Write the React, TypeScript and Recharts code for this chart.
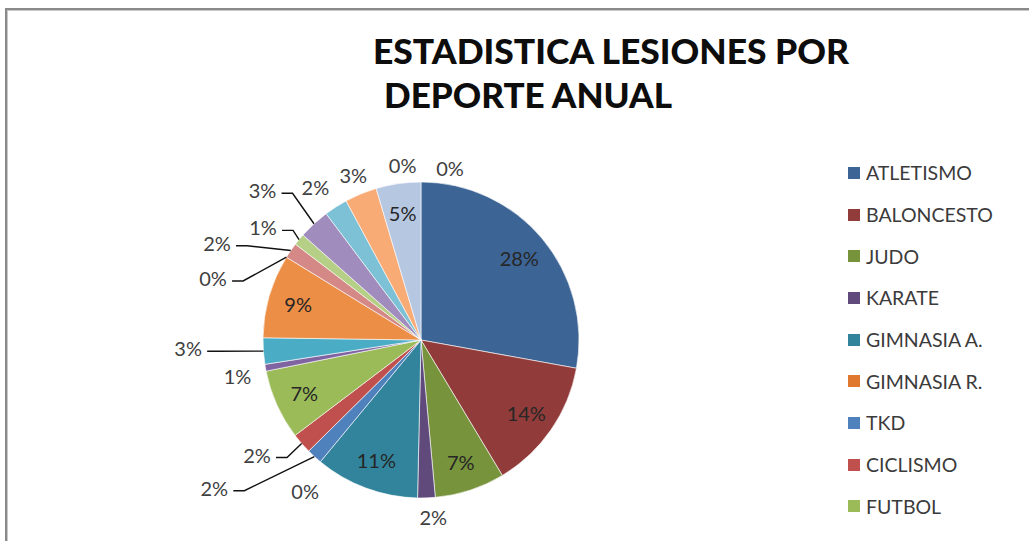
import { Cell, Legend, Pie, PieChart } from "recharts";

// sports shown in the legend; the ones after FUTBOL are cut off in the original picture
const SPORTS = [
  "ATLETISMO",
  "BALONCESTO",
  "JUDO",
  "KARATE",
  "GIMNASIA A.",
  "GIMNASIA R.",
  "TKD",
  "CICLISMO",
  "FUTBOL",
  "DEPORTE 10",
  "DEPORTE 11",
  "DEPORTE 12",
  "DEPORTE 13",
  "DEPORTE 14",
  "DEPORTE 15",
  "DEPORTE 16",
  "DEPORTE 17",
  "DEPORTE 18",
  "DEPORTE 19",
  "DEPORTE 20",
  "DEPORTE 21",
];

// share of yearly injuries
const SHARES = [28, 13.6, 7.2, 1.8, 10.7, 0, 1.6, 2.1, 7.2, 0.7, 2.7, 8.6, 0, 1.6, 1.2, 3.2, 2.4, 3.3, 4.6, 0, 0];

const COLORS = [
  "#3c6494", "#913c3a", "#77933c", "#5f4a7b", "#31849b", "#e0782f",
  "#4f81bd", "#c0504d", "#9bbb59", "#8064a2", "#4bacc6", "#ec8e45",
  "#95b3d7", "#d48987", "#b6cf86", "#a08cbd", "#7cc1d5", "#f9ab76",
  "#b6c7e2", "#d9b1b0", "#d4e2b7",
];

const data = SPORTS.map((name, i) => ({ name, value: SHARES[i] }));

// where each percentage goes: inside the slice, or outside (distance from centre,
// degrees turned from the slice middle, leader line or not)
type Spot = { inside?: boolean; r?: number; da?: number; line?: boolean };
const LABEL_SPOTS: Spot[] = [
  { inside: true },
  { inside: true },
  { inside: true },
  { r: 177, da: 2 },
  { inside: true },
  { r: 190, da: 2 },
  { r: 254, da: -12, line: true },
  { r: 200, da: -6, line: true },
  { inside: true },
  { r: 187, da: 1 },
  { r: 233, da: -2, line: true },
  { inside: true },
  { r: 217, da: 15, line: true },
  { r: 226, da: 9, line: true },
  { r: 194, da: 4, line: true },
  { r: 218, da: 4, line: true },
  { r: 186, da: 2 },
  { r: 178, da: 0 },
  { inside: true },
  { r: 176, da: 6 },
  { r: 174, da: -9.6 },
];

const RAD = Math.PI / 180;
const FONT = "Lato, 'Open Sans', sans-serif";
const LEGEND_TOP = 152;
const LEGEND_ROW = 41.7;
const CHART_H = 541;

function polar(cx: number, cy: number, r: number, deg: number): [number, number] {
  return [cx + r * Math.cos(-deg * RAD), cy + r * Math.sin(-deg * RAD)];
}

const renderLabel = (props: any) => {
  const { cx, cy, midAngle, outerRadius, percent, index } = props;
  const spot = LABEL_SPOTS[index] ?? { inside: true };
  const text = `${Math.round((percent ?? 0) * 100)}%`;
  const [x, y] = spot.inside
    ? polar(cx, cy, outerRadius * 0.81, midAngle)
    : polar(cx, cy, spot.r ?? outerRadius + 20, midAngle + (spot.da ?? 0));

  let line = null;
  if (spot.line) {
    const [sx, sy] = polar(cx, cy, outerRadius, midAngle);
    const ex = x + 19;
    const ey = y + 3;
    line = (
      <polyline
        points={`${sx},${sy} ${ex + 11},${ey} ${ex},${ey}`}
        fill="none"
        stroke="#111"
        strokeWidth={1.4}
      />
    );
  }

  return (
    <g key={`lbl-${index}`}>
      {line}
      <text
        x={x}
        y={y}
        textAnchor="middle"
        dominantBaseline="central"
        fill={spot.inside ? "#262626" : "#404040"}
        fontSize={20}
        fontFamily={FONT}
      >
        {text}
      </text>
    </g>
  );
};

// the legend box runs past the bottom of the chart, so only the rows that fit are shown
const LegendList = () => {
  const rows = Math.floor((CHART_H - LEGEND_TOP) / LEGEND_ROW);
  return (
    <ul style={{ listStyle: "none", margin: 0, padding: 0 }}>
      {SPORTS.slice(0, rows).map((name, i) => (
        <li
          key={`leg-${name}`}
          style={{ height: LEGEND_ROW, display: "flex", alignItems: "center", whiteSpace: "nowrap" }}
        >
          <span
            style={{
              display: "inline-block",
              width: 12,
              height: 12,
              marginRight: 6,
              background: COLORS[i],
            }}
          />
          <span style={{ fontFamily: FONT, fontSize: 19.5, color: "#3b3b3b" }}>{name}</span>
        </li>
      ))}
    </ul>
  );
};

export default function App() {
  return (
    <div
      style={{
        position: "absolute",
        left: 0,
        top: 0,
        width: 1029,
        height: CHART_H,
        overflow: "hidden",
        background: "#fff",
      }}
    >
      <div
        style={{
          position: "absolute",
          left: 5,
          top: 8,
          width: 1100,
          height: 700,
          borderTop: "2px solid #8a8a8a",
          borderLeft: "2px solid #8a8a8a",
          boxShadow: "inset 1px 1px 0 #c9c9c9",
        }}
      />
      <svg
        width={1029}
        height={130}
        style={{ position: "absolute", left: 0, top: 0, pointerEvents: "none" }}
      >
        <text
          x={373}
          y={64}
          fontFamily={FONT}
          fontWeight={900}
          fontSize={35}
          fill="#0d0d0d"
          textLength={476}
          lengthAdjust="spacingAndGlyphs"
        >
          ESTADISTICA LESIONES POR
        </text>
        <text
          x={384}
          y={108}
          fontFamily={FONT}
          fontWeight={900}
          fontSize={35}
          fill="#0d0d0d"
          textLength={288}
          lengthAdjust="spacingAndGlyphs"
        >
          DEPORTE ANUAL
        </text>
      </svg>
      <div style={{ position: "absolute", left: 0, top: 0 }}>
        <PieChart width={1029} height={CHART_H} margin={{ top: 0, right: 0, bottom: 0, left: 0 }}>
          <Pie
            data={data}
            dataKey="value"
            nameKey="name"
            cx={421}
            cy={340}
            outerRadius={158}
            startAngle={90}
            endAngle={-270}
            stroke="#ffffff"
            strokeWidth={0.6}
            label={renderLabel}
            labelLine={false}
            isAnimationActive={false}
          >
            {data.map((d, i) => (
              <Cell key={d.name} fill={COLORS[i]} />
            ))}
          </Pie>
          <Legend
            layout="vertical"
            align="right"
            verticalAlign="top"
            content={<LegendList />}
            wrapperStyle={{ left: 848, top: LEGEND_TOP, width: 180 }}
          />
        </PieChart>
      </div>
    </div>
  );
}
